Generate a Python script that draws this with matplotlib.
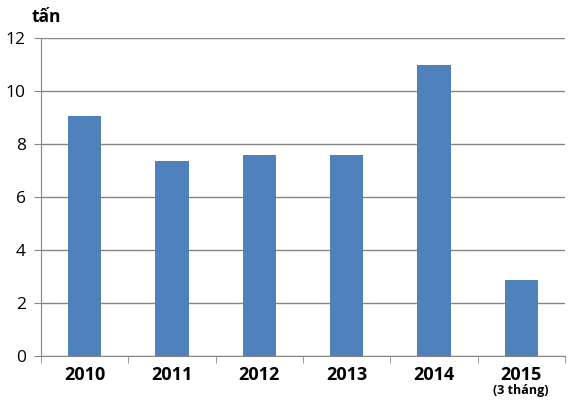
import matplotlib
matplotlib.use("Agg")
import matplotlib.pyplot as plt
import numpy as np

# data
years = ["2010", "2011", "2012", "2013", "2014", "2015\n(3 tháng)"]
values = [9.05, 7.35, 7.58, 7.58, 11.0, 2.87]
yticks = [0, 2, 4, 6, 8, 10, 12]

plt.rcParams['font.family'] = ['Open Sans', 'DejaVu Sans']

fig = plt.figure(figsize=(5.88, 4.0), dpi=100)
ax = fig.add_axes([0.0697, 0.11, 0.891, 0.795])

x = np.arange(len(years))
ax.bar(x, values, width=0.38, color="#4F81BD", zorder=3)

ax.set_xlim(-0.5, len(years) - 0.5)
ax.set_ylim(0, 12)
ax.set_yticks(yticks)
ax.set_yticklabels([str(v) for v in yticks], fontsize=12.5)
ax.yaxis.grid(True, color="#868686", linewidth=1.0, zorder=0)

# category labels, with smaller second line for 2015
ax.set_xticks(x)
ax.set_xticklabels([])
ax.tick_params(axis="x", which="major", length=0)
for xi, lab in zip(x, years):
    parts = lab.split("\n")
    ax.text(xi, -0.36, parts[0], ha="center", va="top", fontsize=13,
            fontweight="bold")
    if len(parts) > 1:
        ax.text(xi, -1.06, parts[1], ha="center", va="top", fontsize=9,
                fontweight="bold")
ax.set_xticks(np.arange(-0.5, len(years)), minor=True)
ax.tick_params(axis="x", which="minor", length=5, color="#868686")
ax.tick_params(axis="y", length=5, color="#868686", pad=6)

for s in ["top", "right"]:
    ax.spines[s].set_visible(False)
ax.spines["left"].set_color("#868686")
ax.spines["bottom"].set_color("#868686")

fig.text(0.054, 0.958, "tấn", fontsize=12.5, fontweight="bold", ha="left", va="center")

fig.savefig("out.png", dpi=100)
